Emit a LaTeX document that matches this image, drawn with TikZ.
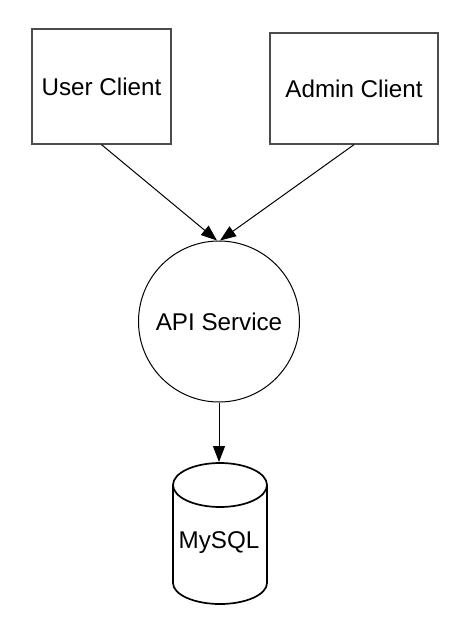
\documentclass[tikz,border=0pt]{standalone}
\usepackage{fontspec}
\setmainfont{Liberation Sans}
\usetikzlibrary{arrows.meta}
\tikzset{
  boxnode/.style={draw=black!70, line width=1.3pt, rectangle, inner sep=0pt,
    font=\fontsize{24.2}{28}\selectfont},
  apinode/.style={draw=black, line width=1pt, circle, minimum size=161pt, inner sep=0pt,
    font=\fontsize{24.2}{28}\selectfont},
  labelnode/.style={inner sep=0pt, font=\fontsize{24.2}{28}\selectfont},
  dbline/.style={draw=black, line width=1.7pt},
  arr/.style={draw=black, line width=1pt, -{Triangle[length=16pt,width=12pt]}}
}
\begin{document}
\begin{tikzpicture}[x=1pt,y=-1pt]
\useasboundingbox (0,0) rectangle (470,628);
\node[boxnode, minimum width=139pt, minimum height=115pt] (user) at (101.5,86.5) {User Client};
\node[boxnode, minimum width=168pt, minimum height=111pt] (admin) at (354,88.5) {Admin Client};
\node[apinode] (api) at (219,321.5) {API Service};
% cylinder
\draw[dbline] (220,485) ellipse [x radius=47, y radius=22];
\draw[dbline] (173,485) -- (173,583) arc[start angle=180, end angle=0, x radius=47, y radius=21] -- (267,485);
\node[labelnode] (db) at (219,543) {MySQL};
\coordinate (dbtop) at (219,462);
\draw[arr] (user.south) -- ([xshift=-2pt]api.north);
\draw[arr] (admin.south) -- ([xshift=1pt]api.north);
\draw[arr] (api.south) -- (dbtop);
\end{tikzpicture}
\end{document}
